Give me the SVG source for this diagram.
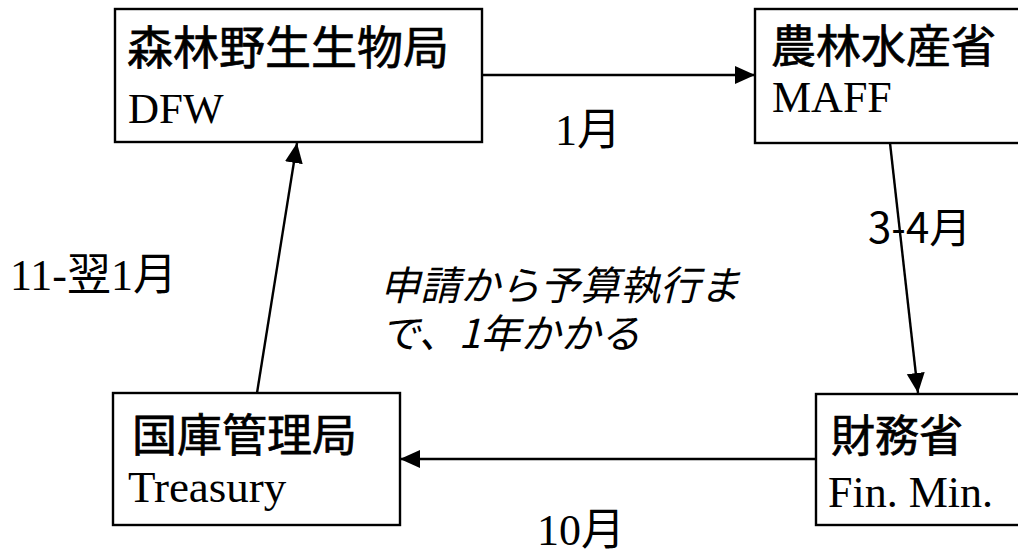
<svg xmlns="http://www.w3.org/2000/svg" width="1018" height="554" viewBox="0 0 1018 554">
<style>
.box{fill:#fff;stroke:#000;stroke-width:2.4}
.jp{font-family:"Noto Sans CJK JP",sans-serif;fill:#000;stroke:#000;stroke-width:0.7}
.lj{font-family:"Noto Sans CJK JP",sans-serif;fill:#000}
.en{font-family:"Liberation Serif","Noto Sans CJK JP",serif;fill:#000}
.lbl{font-family:"Liberation Serif","Noto Sans CJK JP",serif;fill:#000;font-size:44px}
.conn{stroke:#000;stroke-width:2.4;fill:none;marker-end:url(#ah)}
</style>
<defs>
<marker id="ah" markerWidth="22" markerHeight="20" refX="20" refY="9" orient="auto" markerUnits="userSpaceOnUse">
<path d="M0,0 L20,9 L0,18 Z" fill="#000"/>
</marker>
</defs>
<rect width="1018" height="554" fill="#fff"/>
<g id="connectors">
<line class="conn" x1="482" y1="75" x2="755" y2="75"/>
<line class="conn" x1="890" y1="143" x2="918" y2="393"/>
<line class="conn" x1="816" y1="459" x2="400" y2="459"/>
<line class="conn" x1="257" y1="393" x2="297" y2="143"/>
</g>
<g id="node-dfw">
<rect class="box" x="115" y="9" width="367" height="133"/>
<text class="jp" x="127" y="64" font-size="46">森林野生生物局</text>
<text class="en" x="128" y="123" font-size="43">DFW</text>
</g>
<g id="node-maff">
<rect class="box" x="755" y="9" width="290" height="134"/>
<text class="jp" x="771" y="63" font-size="45">農林水産省</text>
<text class="en" x="772" y="112" font-size="44">MAFF</text>
</g>
<g id="node-treasury">
<rect class="box" x="113" y="393" width="287" height="132"/>
<text class="jp" x="132" y="452" font-size="45">国庫管理局</text>
<text class="en" x="128" y="502" font-size="45">Treasury</text>
</g>
<g id="node-finmin">
<rect class="box" x="816" y="394" width="230" height="131"/>
<text class="jp" x="831" y="452" font-size="44">財務省</text>
<text class="en" x="828" y="507" font-size="44">Fin. Min.</text>
</g>
<g id="labels">
<text class="lbl" x="555" y="145">1月</text>
<text class="lj" x="868" y="243" font-size="42">3-4月</text>
<text class="lbl" x="537" y="545">10月</text>
<text class="lbl" x="10" y="290">11-翌1月</text>
<text class="lj" font-size="40" font-style="italic"><tspan x="380" y="300">申請から予算執行ま</tspan><tspan x="380" y="348">で、1年かかる</tspan></text>
</g>
</svg>
